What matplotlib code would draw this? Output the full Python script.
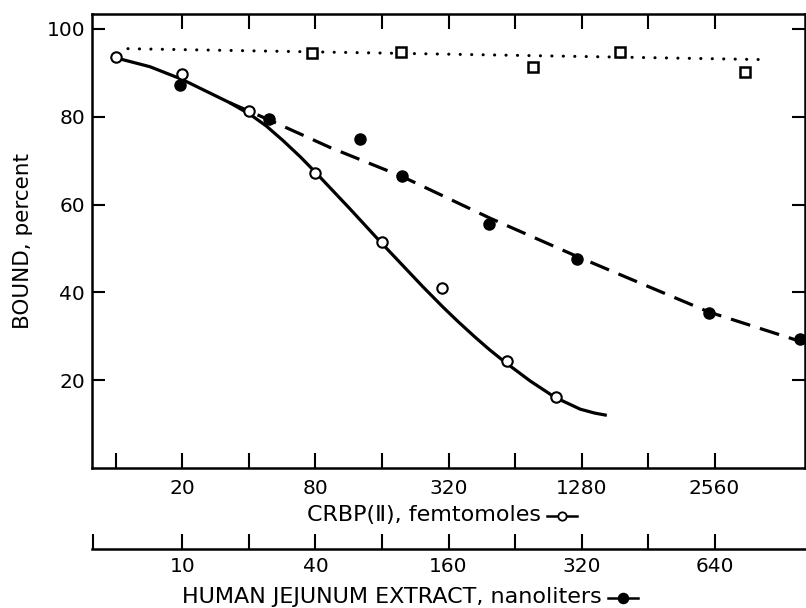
import matplotlib
matplotlib.use("Agg")
import matplotlib.pyplot as plt
from matplotlib.lines import Line2D

# positions are in tick-index units (each tick of the scale = 1)
crbp_pos = [0, 1, 2, 3, 4, 4.9, 5.88, 6.62]
crbp_bound = [93.6, 89.8, 81.4, 67.3, 51.4, 40.9, 24.3, 16.1]

extract_pos = [0.96, 2.3, 3.67, 4.3, 5.61, 6.93, 8.92, 10.29]
extract_bound = [87.3, 79.5, 75.0, 66.4, 55.5, 47.7, 35.2, 29.3]

control_pos = [2.95, 4.29, 6.27, 7.58, 9.46]
control_bound = [94.5, 94.8, 91.4, 94.8, 90.2]

# hand-drawn fit curves
crbp_curve_pos = [-0.05, 0.51, 0.98, 1.71, 2.02, 2.26, 2.51, 2.77, 2.99, 3.52,
                  3.97, 4.32, 4.62, 4.92, 5.14, 5.40, 5.62, 5.85, 6.23, 6.60,
                  6.98, 7.20, 7.38]
crbp_curve = [93.6, 91.4, 88.6, 83.2, 80.5, 77.9, 74.6, 70.9, 67.5, 59.0,
              51.6, 46.0, 41.2, 36.6, 33.4, 29.8, 26.9, 24.1, 19.8, 16.1,
              13.4, 12.5, 12.0]
extract_curve_pos = [1.71, 2.30, 3.22, 4.12, 4.30, 5.61, 6.93, 7.68, 8.92, 10.38]
extract_curve = [83.2, 79.3, 73.0, 67.5, 66.4, 57.0, 48.2, 43.4, 35.5, 28.4]
control_line_pos = [0.18, 9.79]
control_line = [95.5, 93.0]

top_ticks = [1, 2, 3, 4, 5, 6, 7, 8, 9]
crbp_labels = ["20", "", "80", "", "320", "", "1280", "", "2560"]
extract_labels = ["10", "", "40", "", "160", "", "320", "", "640"]
y_ticks = [20, 40, 60, 80, 100]

W, H = 806, 608
fig = plt.figure(figsize=(W / 100, H / 100), dpi=100)
plt.rcParams['font.family'] = ['DejaVu Sans']

L, R, T, B = 92, 805, 14, 468
ax = fig.add_axes([L / W, 1 - B / H, (R - L) / W, (B - T) / H])
xmin, xmax = -0.36, 10.36
ax.set_xlim(xmin, xmax)
ax.set_ylim(0, 103.4)

ax.plot(crbp_curve_pos, crbp_curve, color='black', lw=2.3,
        solid_capstyle='butt', solid_joinstyle='round')
ax.plot(extract_curve_pos, extract_curve, color='black', lw=2.3, dashes=(6.3, 3.2))
ax.plot(control_line_pos, control_line, color='black', lw=2.2,
        dashes=(0.05, 3.7), dash_capstyle='round')

ax.plot(crbp_pos, crbp_bound, 'o', ms=7.5, mfc='white', mec='black', mew=1.5, zorder=5)
ax.plot(extract_pos, extract_bound, 'o', ms=8, mfc='black', mec='black', zorder=5,
        clip_on=False)
ax.plot(control_pos, control_bound, 's', ms=7, mfc='white', mec='black', mew=1.8, zorder=5)

for s in ax.spines.values():
    s.set_linewidth(1.8)

ax.set_xticks(top_ticks)
ax.set_xticklabels(crbp_labels)
ax.set_xticks([0], minor=True)
ax.tick_params(axis='x', which='major', direction='in', length=10.8, width=1.5,
               top=True, labelsize=14.5, pad=8)
ax.tick_params(axis='x', which='minor', direction='in', length=10.8, width=1.5,
               top=False)
ax.set_yticks(y_ticks)
ax.tick_params(axis='y', direction='in', length=9.4, width=1.5, right=True,
               labelsize=14.5, pad=5)

fig.text(23 / W, 1 - 241 / H, "BOUND, percent", rotation=90, ha='center',
         va='center', fontsize=15.5)

# second scale for the extract
ax2 = fig.add_axes([L / W, 1 - 549 / H, (R - L) / W, 0.0001])
ax2.set_xlim(xmin, xmax)
for k in ['top', 'left', 'right']:
    ax2.spines[k].set_visible(False)
ax2.spines['bottom'].set_linewidth(1.8)
ax2.set_yticks([])
ax2.set_xticks([xmin + 0.02] + top_ticks)
ax2.set_xticklabels([""] + extract_labels)
ax2.tick_params(axis='x', direction='in', length=10.8, width=1.5,
                labelsize=14.5, pad=6)
ax2.patch.set_visible(False)


def label_with_key(x_px, y_px, text, filled):
    t = fig.text(x_px / W, 1 - y_px / H, text, ha='left', va='center', fontsize=16)
    fig.canvas.draw()
    bb = t.get_window_extent()
    x0 = bb.x1 + 6
    ymid = (bb.y0 + bb.y1) / 2 - 1
    fig.add_artist(Line2D([x0 / W, (x0 + 30) / W], [ymid / H, ymid / H],
                          color='black', lw=1.8, transform=fig.transFigure))
    fig.add_artist(Line2D([(x0 + 15) / W], [ymid / H], marker='o',
                          ms=6 if not filled else 7,
                          mfc='black' if filled else 'white', mec='black',
                          mew=1.3, transform=fig.transFigure))


label_with_key(307, 515, "CRBP(\u2161), femtomoles", False)
label_with_key(182, 597, "HUMAN JEJUNUM EXTRACT, nanoliters", True)

fig.savefig("out.png", dpi=100)
